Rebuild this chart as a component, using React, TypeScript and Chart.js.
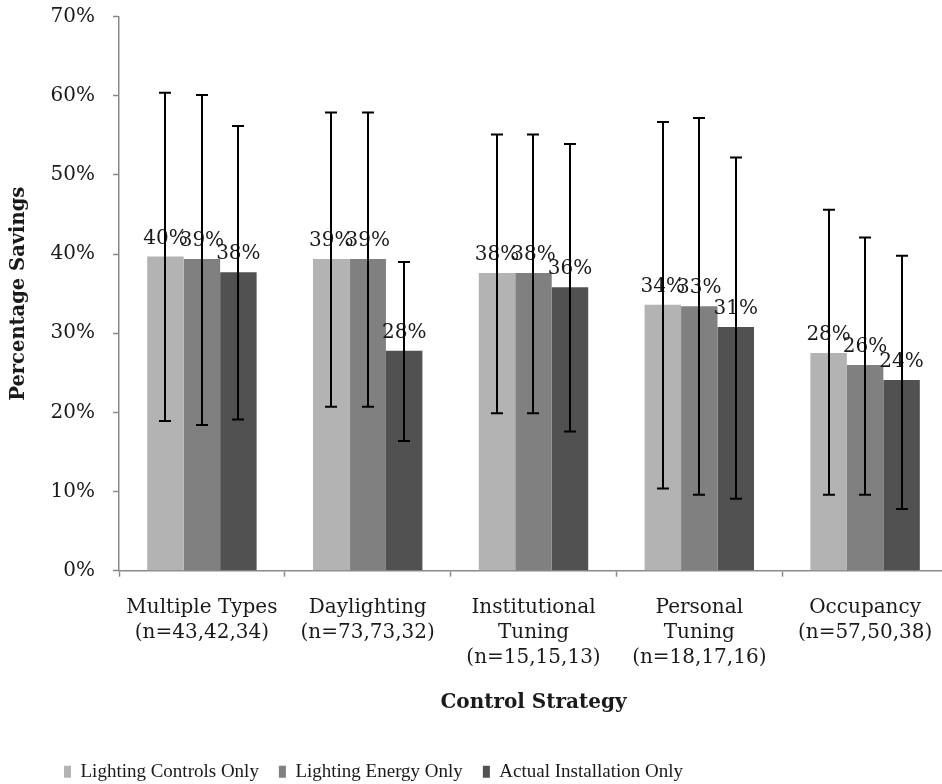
import React, { useEffect, useRef } from "react";
import { Chart, registerables } from "chart.js";

Chart.register(...registerables);

// Control strategies on the x axis (multi-line labels)
const categories: string[][] = [
  ["Multiple Types", "(n=43,42,34)"],
  ["Daylighting", "(n=73,73,32)"],
  ["Institutional", "Tuning", "(n=15,15,13)"],
  ["Personal", "Tuning", "(n=18,17,16)"],
  ["Occupancy", "(n=57,50,38)"],
];

const seriesNames = [
  "Lighting Controls Only",
  "Lighting Energy Only",
  "Actual Installation Only",
];

// Mean savings (%)
const controlsOnly = [39.7, 39.4, 37.6, 33.6, 27.5];
const energyOnly = [39.4, 39.4, 37.6, 33.4, 26.0];
const installationOnly = [37.7, 27.8, 35.8, 30.8, 24.1];

// Error bar upper ends (%)
const controlsHigh = [60.4, 57.9, 55.1, 56.7, 45.6];
const energyHigh = [60.1, 57.9, 55.1, 57.2, 42.1];
const installationHigh = [56.2, 39.0, 53.9, 52.2, 39.8];

// Error bar lower ends (%)
const controlsLow = [18.9, 20.7, 19.9, 10.4, 9.6];
const energyLow = [18.4, 20.7, 19.9, 9.6, 9.6];
const installationLow = [19.1, 16.4, 17.6, 9.1, 7.8];

const yTicks = [0, 10, 20, 30, 40, 50, 60, 70];

const SERIF = '"DejaVu Serif", serif';
const AXIS_GRAY = "#8a8a8a";
const TEXT = "#1a1a1a";

// Value labels above each bar, then the error bars drawn over them
const barAnnotations = {
  id: "barAnnotations",
  afterDatasetsDraw(chart: any) {
    const ctx: CanvasRenderingContext2D = chart.ctx;
    const yScale = chart.scales.y;
    ctx.save();
    ctx.font = `20px ${SERIF}`;
    ctx.fillStyle = TEXT;
    ctx.textAlign = "center";
    ctx.textBaseline = "alphabetic";
    chart.data.datasets.forEach((ds: any, i: number) => {
      const meta = chart.getDatasetMeta(i);
      meta.data.forEach((bar: any, j: number) => {
        const v = ds.data[j] as number;
        ctx.fillText(`${Math.round(v)}%`, bar.x, bar.y - 13);
      });
    });
    ctx.strokeStyle = "#000";
    ctx.lineWidth = 2;
    chart.data.datasets.forEach((ds: any, i: number) => {
      const meta = chart.getDatasetMeta(i);
      meta.data.forEach((bar: any, j: number) => {
        const hi = yScale.getPixelForValue(ds.errorHigh[j]);
        const lo = yScale.getPixelForValue(ds.errorLow[j]);
        const x = Math.round(bar.x);
        ctx.beginPath();
        ctx.moveTo(x, hi);
        ctx.lineTo(x, lo);
        ctx.moveTo(x - 6, hi);
        ctx.lineTo(x + 6, hi);
        ctx.moveTo(x - 6, lo);
        ctx.lineTo(x + 6, lo);
        ctx.stroke();
      });
    });
    ctx.restore();
  },
};

// Places the legend row near the left edge and close to the bottom
const legendOffset = {
  id: "legendOffset",
  afterLayout(chart: any) {
    const lg = chart.legend;
    if (!lg) return;
    lg.left = 44;
    lg.top += 10;
    lg.bottom += 10;
  },
};

export default function App() {
  const canvasRef = useRef<HTMLCanvasElement | null>(null);

  useEffect(() => {
    const canvas = canvasRef.current;
    if (!canvas) return;
    const chart = new Chart(canvas, {
      type: "bar",
      data: {
        labels: categories,
        datasets: [
          {
            label: seriesNames[0],
            data: controlsOnly,
            backgroundColor: "#b3b3b3",
            errorHigh: controlsHigh,
            errorLow: controlsLow,
          } as any,
          {
            label: seriesNames[1],
            data: energyOnly,
            backgroundColor: "#808080",
            errorHigh: energyHigh,
            errorLow: energyLow,
          } as any,
          {
            label: seriesNames[2],
            data: installationOnly,
            backgroundColor: "#515151",
            errorHigh: installationHigh,
            errorLow: installationLow,
          } as any,
        ],
      },
      options: {
        responsive: false,
        animation: false,
        devicePixelRatio: 1,
        layout: { padding: { left: 0, right: 12, top: 16.7, bottom: 2.8 } },
        datasets: {
          bar: { categoryPercentage: 0.66, barPercentage: 1.0, borderWidth: 0 },
        },
        plugins: {
          tooltip: { enabled: false },
          legend: {
            position: "bottom",
            align: "start",
            labels: {
              boxWidth: 7,
              boxHeight: 12,
              padding: 20,
              color: TEXT,
              font: { family: '"Liberation Serif", serif', size: 19 },
            },
          },
        },
        scales: {
          x: {
            grid: {
              offset: true,
              drawOnChartArea: false,
              drawTicks: true,
              tickLength: 6,
              tickColor: AXIS_GRAY,
              tickWidth: 1.5,
            },
            border: { display: true, color: AXIS_GRAY, width: 1.5 },
            ticks: {
              color: TEXT,
              padding: 19,
              maxRotation: 0,
              autoSkip: false,
              font: { family: SERIF, size: 20, lineHeight: 1.25 },
            },
            title: {
              display: true,
              text: "Control Strategy",
              color: TEXT,
              font: { family: SERIF, size: 20, weight: "bold", lineHeight: 1.2 },
              padding: { top: 20.5, bottom: 17 },
            },
            afterFit(scale: any) {
              scale.height = 161.5;
            },
          },
          y: {
            min: 0,
            max: 70,
            afterBuildTicks(scale: any) {
              scale.ticks = yTicks.map((v) => ({ value: v }));
            },
            grid: {
              drawOnChartArea: false,
              drawTicks: true,
              tickLength: 6,
              tickColor: AXIS_GRAY,
              tickWidth: 1.5,
            },
            border: { display: true, color: AXIS_GRAY, width: 1.5 },
            ticks: {
              color: TEXT,
              padding: 18,
              font: { family: SERIF, size: 20 },
              callback: (v: any) => `${v}%`,
            },
            title: {
              display: true,
              text: "Percentage Savings",
              color: TEXT,
              font: { family: SERIF, size: 19.5, weight: "bold", lineHeight: 1.2 },
              padding: { top: 6.8, bottom: 0 },
            },
            afterFit(scale: any) {
              scale.width = 119;
              scale.paddingTop = 0;
              scale.paddingBottom = 0;
            },
          },
        },
      } as any,
      plugins: [barAnnotations, legendOffset],
    });
    return () => chart.destroy();
  }, []);

  return (
    <div
      style={{
        position: "fixed",
        left: 0,
        top: 0,
        width: 942,
        height: 784,
        overflow: "hidden",
        background: "#fff",
      }}
    >
      <canvas ref={canvasRef} width={960} height={784} style={{ display: "block" }} />
    </div>
  );
}
